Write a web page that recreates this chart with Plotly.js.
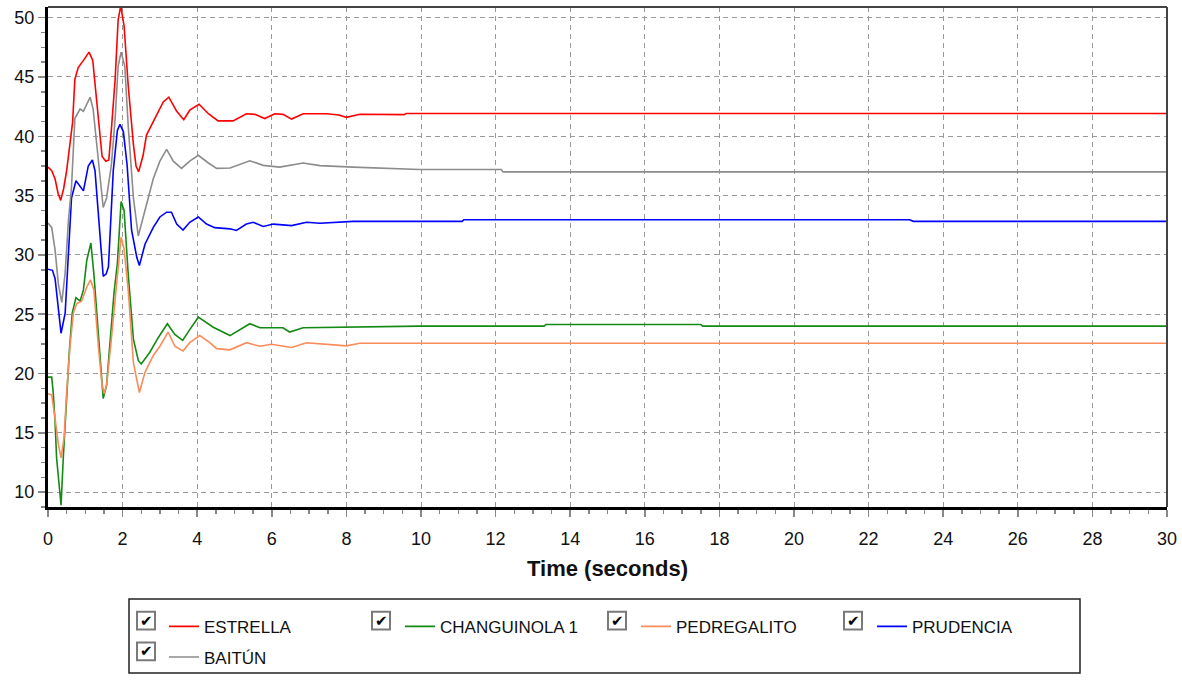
<!DOCTYPE html>
<html><head><meta charset="utf-8">
<script src="https://cdn.plot.ly/plotly-3.0.1.min.js"></script>
<style>html,body{margin:0;padding:0;background:#fff;}#chart{width:1182px;height:683px;}</style>
</head><body><div id="chart"></div>
<script>
// ---- data (time in seconds) ----
const seriesNames = ["ESTRELLA", "CHANGUINOLA 1", "PEDREGALITO", "PRUDENCIA", "BAITÚN"];
const seriesColors = ["#ff0000", "#138a13", "#fa8c5a", "#0000ff", "#8c8c8c"];

const tEstrella = [0,0.1,0.19,0.27,0.34,0.42,0.5,0.6,0.66,0.72,0.81,0.95,1.1,1.2,1.28,1.35,1.45,1.55,1.63,1.7,1.8,1.88,1.95,2.04,2.15,2.29,2.36,2.43,2.55,2.64,2.87,3.09,3.24,3.45,3.64,3.8,4.05,4.3,4.56,4.96,5.32,5.55,5.81,6.08,6.3,6.53,6.84,7.47,7.8,8.0,8.36,9.55,9.6,30];
const estrella  = [37.4,37.1,36.4,35.2,34.6,35.6,37.1,39.5,41.2,44.8,45.8,46.4,47.1,46.4,43.8,41.0,38.3,37.9,38.0,40.6,44.8,49.8,51.0,49.3,44.3,39.3,37.5,37.0,38.4,40.1,41.5,42.9,43.3,42.1,41.4,42.2,42.7,41.9,41.3,41.3,41.9,41.85,41.5,41.9,41.85,41.45,41.9,41.9,41.8,41.6,41.86,41.83,41.92,41.92];

const tChanguinola = [0,0.1,0.14,0.19,0.23,0.3,0.35,0.41,0.48,0.57,0.65,0.75,0.86,0.95,1.04,1.15,1.23,1.35,1.44,1.48,1.57,1.66,1.77,1.86,1.96,2.04,2.1,2.15,2.29,2.42,2.5,2.73,2.95,3.2,3.4,3.61,3.8,4.03,4.43,4.88,5.41,5.68,6.3,6.48,6.84,8.18,9.96,13.3,13.35,17.5,17.55,30];
const changuinola  = [19.7,19.7,18.4,15.9,12.9,10.7,8.9,12.9,16.8,21.8,25.1,26.4,26.1,27.05,29.55,31.0,28.4,23.7,19.55,17.9,19.0,22.3,26.8,29.3,34.5,33.75,30.7,28.4,22.9,21.1,20.8,21.8,23.0,24.2,23.3,22.8,23.7,24.75,23.9,23.2,24.2,23.86,23.86,23.5,23.86,23.94,24.0,24.0,24.14,24.14,24.0,24.0];

const tPedregalito = [0,0.1,0.19,0.28,0.35,0.43,0.5,0.59,0.68,0.77,0.9,1.04,1.14,1.23,1.35,1.44,1.5,1.57,1.68,1.8,1.96,2.04,2.15,2.29,2.45,2.6,2.82,3.0,3.22,3.4,3.62,3.8,4.07,4.34,4.52,4.88,5.32,5.68,5.99,6.53,6.93,8.0,8.36,30];
const pedregalito  = [18.3,18.2,16.2,14.0,12.9,14.55,18.4,22.3,25.1,25.9,26.1,27.3,27.9,27.05,22.3,19.3,18.3,19.0,22.3,26.5,31.5,30.5,27.05,20.9,18.4,20.1,21.5,22.3,23.5,22.3,21.9,22.6,23.2,22.6,22.1,22.0,22.6,22.3,22.47,22.2,22.6,22.33,22.55,22.55];

const tPrudencia = [0,0.12,0.19,0.28,0.35,0.46,0.54,0.63,0.75,0.86,0.95,1.08,1.19,1.26,1.39,1.48,1.56,1.62,1.75,1.86,1.93,2.02,2.12,2.24,2.38,2.45,2.6,2.82,3.0,3.18,3.31,3.45,3.62,3.8,4.03,4.25,4.47,4.88,5.05,5.32,5.5,5.77,6.04,6.53,6.93,7.29,8.18,11.1,11.15,23.1,23.2,30];
const prudencia  = [28.8,28.7,28.0,25.1,23.4,25.1,29.8,34.8,36.25,35.8,35.4,37.5,38.0,37.1,32.1,28.2,28.4,29.0,37.1,40.5,41.0,40.4,37.6,32.1,29.8,29.1,30.9,32.3,33.2,33.6,33.6,32.6,32.1,32.75,33.2,32.6,32.3,32.2,32.06,32.6,32.75,32.4,32.6,32.47,32.75,32.67,32.83,32.83,32.97,32.97,32.83,32.83];

const tBaitun = [0,0.1,0.19,0.28,0.37,0.46,0.55,0.63,0.72,0.86,0.95,1.13,1.21,1.35,1.48,1.57,1.7,1.8,1.88,1.96,2.06,2.15,2.29,2.42,2.6,2.82,3.0,3.18,3.36,3.58,3.8,4.03,4.3,4.52,4.88,5.41,5.77,6.21,6.84,7.29,8.18,9.07,9.96,12.15,12.2,30];
const baitun  = [32.7,32.3,30.4,27.5,26.0,28.5,33.0,35.7,41.5,42.3,42.1,43.3,42.3,38.2,34.0,34.8,37.6,41.5,45.9,47.1,45.9,40.9,34.8,31.6,33.7,36.4,37.9,38.9,37.9,37.3,37.9,38.4,37.75,37.3,37.33,37.94,37.55,37.4,37.75,37.53,37.4,37.33,37.2,37.2,37.0,37.0];

const xTicks = [0,2,4,6,8,10,12,14,16,18,20,22,24,26,28,30];
const yTicks = [10,15,20,25,30,35,40,45,50];

// ---- plotting ----
const FONT = "Liberation Sans, Arial, sans-serif";
const times = [tEstrella, tChanguinola, tPedregalito, tPrudencia, tBaitun];
const values = [estrella, changuinola, pedregalito, prudencia, baitun];

const traces = seriesNames.map((n, i) => ({
  type: "scatter", mode: "lines", name: n,
  x: times[i], y: values[i],
  line: {color: seriesColors[i], width: 1.6},
  legend: i === 4 ? "legend2" : "legend"
}));

// decoration helpers: pixel -> paper coordinates
const L = 48, R = 1167, T = 7, B = 513;
const PX = p => (p - L) / (R - L);
const PY = p => (B - p) / (B - T);

const shapes = [
  {type:"line", xref:"paper", yref:"paper", x0:0, x1:1, y0:1, y1:1, line:{color:"#444", width:2}},
  {type:"line", xref:"paper", yref:"paper", x0:1, x1:1, y0:0, y1:1, line:{color:"#444", width:2}},
  {type:"rect", xref:"paper", yref:"paper", x0:PX(129), x1:PX(1080), y0:PY(681), y1:PY(606), line:{color:"#222", width:1.5}, fillcolor:"rgba(0,0,0,0)"}
];
const annotations = [];
const boxes = [[137,619],[372,619],[608,619],[844,619],[137,650]];
boxes.forEach(([bx, by]) => {
  shapes.push({type:"rect", xref:"paper", yref:"paper", x0:PX(bx), x1:PX(bx+18), y0:PY(by+18), y1:PY(by), line:{color:"#7a7a7a", width:2}, fillcolor:"#ffffff"});
  annotations.push({xref:"paper", yref:"paper", x:PX(bx+9), y:PY(by+9), text:"✔", showarrow:false, xanchor:"center", yanchor:"middle", font:{family:"DejaVu Sans", size:15, color:"#000"}});
});

const axisCommon = {
  showline: true, linecolor: "#000", linewidth: 3, mirror: false,
  zeroline: false, showgrid: true, gridcolor: "#9a9a9a", gridwidth: 1, griddash: "5px,4px",
  ticks: "outside", ticklen: 7, tickcolor: "#888", tickwidth: 1.5,
  tickfont: {family: FONT, size: 18, color: "#111"}, tickmode: "linear", fixedrange: true
};

const layout = {
  width: 1182, height: 683,
  margin: {l: L, r: 1182 - R, t: T, b: 683 - B, pad: 0},
  paper_bgcolor: "#fff", plot_bgcolor: "#fff",
  font: {family: FONT},
  showlegend: true,
  xaxis: Object.assign({}, axisCommon, {
    range: [0, 30], tick0: 0, dtick: 2, ticklabelstandoff: 6,
    minor: {dtick: 0.5, ticks: "outside", ticklen: 4, tickcolor: "#888", showgrid: false},
    title: {text: "<b>Time (seconds)</b>", font: {family: FONT, size: 22, color: "#111"}, standoff: 14}
  }),
  yaxis: Object.assign({}, axisCommon, {
    range: [8.75, 50.9], tick0: 10, dtick: 5,
    minor: {dtick: 1.25, ticks: "outside", ticklen: 4, tickcolor: "#888", showgrid: false}
  }),
  legend: {orientation: "h", x: PX(164), xanchor: "left", y: PY(616), yanchor: "top",
    entrywidth: 191, entrywidthmode: "pixels", bgcolor: "rgba(0,0,0,0)", borderwidth: 0,
    font: {family: FONT, size: 17, color: "#111"}, traceorder: "normal"},
  legend2: {orientation: "h", x: PX(164), xanchor: "left", y: PY(647), yanchor: "top",
    bgcolor: "rgba(0,0,0,0)", borderwidth: 0,
    font: {family: FONT, size: 17, color: "#111"}},
  shapes: shapes, annotations: annotations
};

Plotly.newPlot("chart", traces, layout, {staticPlot: true, displayModeBar: false});
</script></body></html>
